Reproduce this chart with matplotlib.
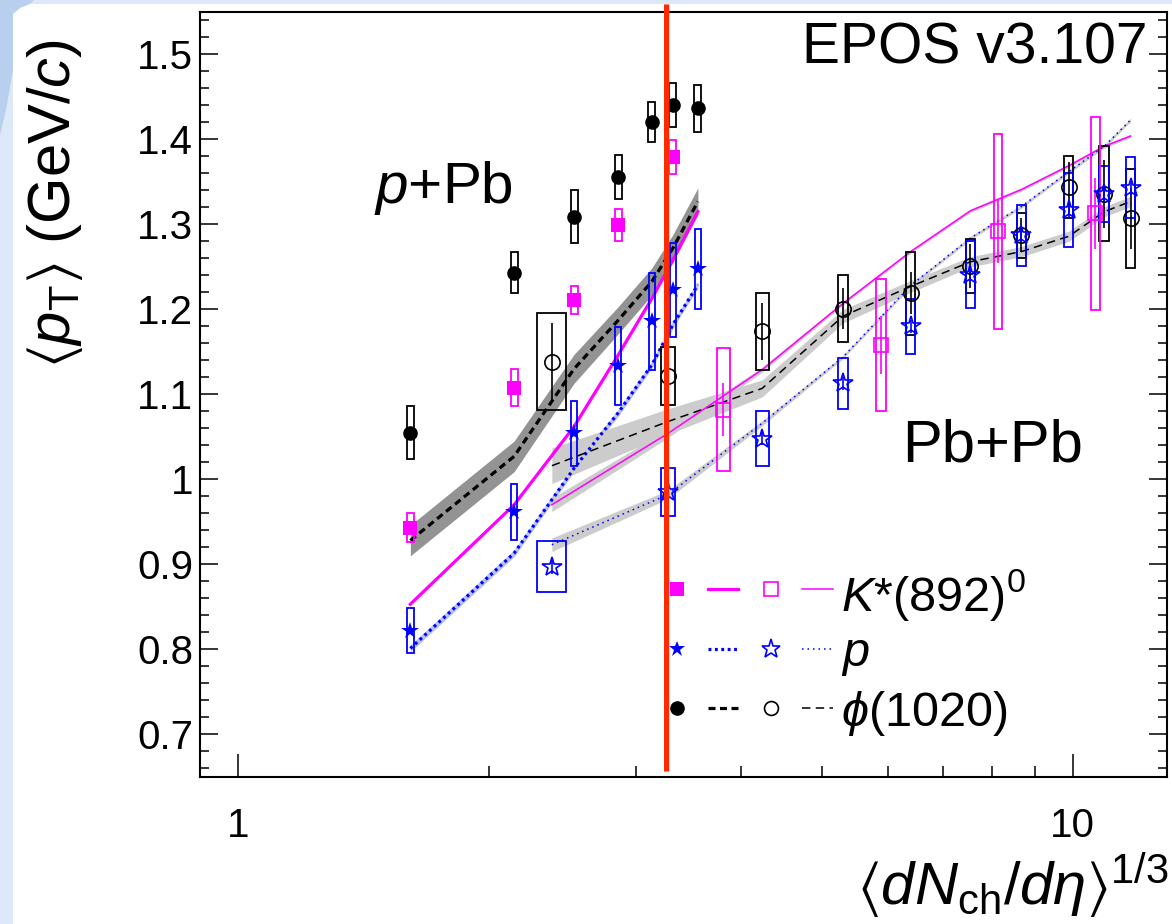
import numpy as np
import matplotlib
matplotlib.use('Agg')
import matplotlib.pyplot as plt
from matplotlib.patches import Rectangle, Polygon
from matplotlib.ticker import FixedLocator, FuncFormatter, NullFormatter

plt.rcParams['font.family'] = ['Liberation Sans', 'DejaVu Sans']
plt.rcParams['mathtext.fontset'] = 'custom'
plt.rcParams['mathtext.rm'] = 'Liberation Sans'
plt.rcParams['mathtext.it'] = 'Liberation Sans:italic'
plt.rcParams['mathtext.bf'] = 'Liberation Sans:bold'
plt.rcParams['mathtext.fallback'] = 'stixsans'

# ---------------- data ----------------
# p+Pb multiplicity classes
ppb_x = [1.608, 2.141, 2.526, 2.852, 3.132, 3.318, 3.555]
ppb_phi_y = [1.055, 1.243, 1.309, 1.356, 1.4205, 1.441, 1.4365]
ppb_phi_sys = [0.031, 0.024, 0.031, 0.026, 0.024, 0.026, 0.028]
ppb_p_y = [0.822, 0.961, 1.054, 1.133, 1.186, 1.223, 1.248]
ppb_p_sys = [0.027, 0.033, 0.038, 0.046, 0.057, 0.055, 0.047]
ppb_k_x = [1.608, 2.141, 2.526, 2.852, 3.318]
ppb_k_y = [0.943, 1.108, 1.211, 1.2995, 1.379]
ppb_k_sys = [0.017, 0.022, 0.017, 0.019, 0.020]

# EPOS p+Pb
epos_ppb_phi = [0.928, 1.027, 1.130, 1.187, 1.233, 1.272, 1.327]
epos_ppb_phi_band = [0.018, 0.018, 0.017, 0.016, 0.016, 0.016, 0.016]
epos_ppb_k = [0.853, 0.970, 1.062, 1.146, 1.213, 1.258, 1.315]
epos_ppb_p = [0.801, 0.913, 1.013, 1.078, 1.135, 1.182, 1.229]
epos_ppb_p_band = [0.004, 0.004, 0.004, 0.004, 0.004, 0.004, 0.004]

# Pb+Pb centrality classes
pbpb_x = [2.376, 3.273, 4.245, 5.305, 6.394, 7.54, 8.677, 9.89, 10.91, 11.73]
pbpb_phi_y = [1.1385, 1.122, 1.174, 1.201, 1.219, 1.251, 1.287, 1.344, 1.336, 1.307]
pbpb_phi_sys = [0.057, 0.034, 0.045, 0.039, 0.049, 0.032, 0.027, 0.037, 0.056, 0.058]
pbpb_phi_stat = [0.046, 0.020, 0.033, 0.024, 0.025, 0.026, 0.020, 0.030, 0.040, 0.036]
pbpb_p_y = [0.897, 0.985, 1.048, 1.113, 1.180, 1.241, 1.287, 1.317, 1.336, 1.343]
pbpb_p_sys = [0.030, 0.028, 0.032, 0.030, 0.032, 0.039, 0.036, 0.043, 0.033, 0.036]
pbpb_p_stat = [0.008, 0.008, 0.008, 0.008, 0.008, 0.008, 0.008, 0.008, 0.008, 0.008]
pbpb_k_x = [3.812, 5.897, 8.135, 10.64]
pbpb_k_y = [1.082, 1.158, 1.292, 1.313]
pbpb_k_sys = [0.072, 0.078, 0.115, 0.114]
pbpb_k_stat = [0.031, 0.034, 0.037, 0.042]

# EPOS Pb+Pb
epos_pbpb_phi = [1.016, 1.068, 1.107, 1.192, 1.227, 1.256, 1.268, 1.286, 1.315, 1.327]
epos_pbpb_phi_band = [0.021, 0.015, 0.010, 0.008, 0.007, 0.006, 0.006, 0.006, 0.006, 0.006]
epos_pbpb_k = [0.970, 1.054, 1.129, 1.207, 1.268, 1.316, 1.341, 1.369, 1.392, 1.404]
epos_pbpb_k_band = [0.008, 0.005, 0.003, 0.002, 0.002, 0.002, 0.002, 0.002, 0.002, 0.002]
epos_pbpb_p = [0.923, 0.982, 1.066, 1.144, 1.228, 1.284, 1.321, 1.362, 1.392, 1.423]
epos_pbpb_p_band = [0.008, 0.005, 0.003, 0.002, 0.002, 0.002, 0.002, 0.002, 0.002, 0.002]

red_line_x = 3.255

x_ticks = [1, 10]
y_ticks = [0.7, 0.8, 0.9, 1.0, 1.1, 1.2, 1.3, 1.4, 1.5]

# ---------------- style ----------------
W, H = 1172, 924
MAG, BLU, BLK = '#ff00ff', '#0000ff', 'black'
DEC = 835.6  # pixels per decade on the x axis


def fx(px):
    return px / W


def fy(py):
    return 1 - py / H


fig = plt.figure(figsize=(W / 100, H / 100), dpi=100)
fig.patch.set_facecolor('white')

# slide background strips
fig.add_artist(Rectangle((0, 0), fx(13), 1, transform=fig.transFigure,
                         color='#dde9f8', lw=0, zorder=0))
fig.add_artist(Rectangle((0, fy(4)), 1, 4 / H, transform=fig.transFigure,
                         color='#dde9f8', lw=0, zorder=0))
fig.add_artist(Polygon([(fx(0), fy(0)), (fx(34), fy(0)), (fx(30), fy(4)),
                        (fx(20), fy(8)), (fx(13), fy(14)), (fx(13), fy(70)),
                        (fx(6), fy(110)), (fx(0), fy(135))],
                       closed=True, transform=fig.transFigure,
                       color='#b9cfee', lw=0, zorder=0))

ax = fig.add_axes([fx(200), fy(776.7), 967 / W, 764.7 / H])
ax.set_xscale('log')
ax.set_xlim(0.9, 12.97)
ax.set_ylim(0.65, 1.55)

for s in ax.spines.values():
    s.set_linewidth(1.5)

ax.xaxis.set_major_locator(FixedLocator(x_ticks))
ax.xaxis.set_minor_locator(FixedLocator([2, 3, 4, 5, 6, 7, 8, 9]))
ax.xaxis.set_major_formatter(FuncFormatter(lambda v, p: '%g' % v))
ax.xaxis.set_minor_formatter(NullFormatter())
ax.yaxis.set_major_locator(FixedLocator(y_ticks))
ax.yaxis.set_minor_locator(FixedLocator(np.arange(0.66, 1.55, 0.02)))
ax.yaxis.set_major_formatter(FuncFormatter(lambda v, p: '%g' % round(v, 2)))

ax.tick_params(axis='x', which='major', direction='in', length=16.5, width=1.1,
               top=False, labelsize=29, pad=22)
ax.tick_params(axis='x', which='minor', direction='in', length=8, width=1.1, top=False)
ax.tick_params(axis='y', which='major', direction='in', length=13, width=1.1,
               right=True, labelsize=29, pad=5)
ax.tick_params(axis='y', which='minor', direction='in', length=6.5, width=1.1, right=True)


def box(x, y, dy, wpx, color, lw=1.3, z=4):
    h = wpx / 2 / DEC
    x0, x1 = x * 10 ** (-h), x * 10 ** h
    ax.add_patch(Rectangle((x0, y - dy), x1 - x0, 2 * dy, fill=False,
                           ec=color, lw=lw, zorder=z))


# ---- EPOS bands and curves ----
ax.fill_between(ppb_x, np.array(epos_ppb_phi) - epos_ppb_phi_band,
                np.array(epos_ppb_phi) + epos_ppb_phi_band, color='#939393', lw=0, zorder=2)
ax.fill_between(ppb_x, np.array(epos_ppb_p) - epos_ppb_p_band,
                np.array(epos_ppb_p) + epos_ppb_p_band, color='#b8c0f4', lw=0, zorder=2)
ax.fill_between(pbpb_x, np.array(epos_pbpb_phi) - epos_pbpb_phi_band,
                np.array(epos_pbpb_phi) + epos_pbpb_phi_band, color='#cccccc', lw=0, zorder=2)
ax.fill_between(pbpb_x, np.array(epos_pbpb_k) - epos_pbpb_k_band,
                np.array(epos_pbpb_k) + epos_pbpb_k_band, color='#cccccc', lw=0, zorder=2)
ax.fill_between(pbpb_x, np.array(epos_pbpb_p) - epos_pbpb_p_band,
                np.array(epos_pbpb_p) + epos_pbpb_p_band, color='#cccccc', lw=0, zorder=2)

THICK, THIN = 2.3, 1.1
ls_thick_dash = (0, (2.2, 1.4))
ls_thin_dash = (0, (5.5, 3.5))
ls_thick_dot = (0, (0.9, 1.1))
ls_thin_dot = (0, (1.0, 2.6))

ax.plot(ppb_x, epos_ppb_phi, color=BLK, lw=THICK, ls=ls_thick_dash, zorder=3)
ax.plot(ppb_x, epos_ppb_k, color=MAG, lw=THICK, ls='-', zorder=3)
ax.plot(ppb_x, epos_ppb_p, color=BLU, lw=THICK, ls=ls_thick_dot, zorder=3)
ax.plot(pbpb_x, epos_pbpb_phi, color=BLK, lw=THIN, ls=ls_thin_dash, zorder=3)
ax.plot(pbpb_x, epos_pbpb_k, color=MAG, lw=THIN, ls='-', zorder=3)
ax.plot(pbpb_x, epos_pbpb_p, color=BLU, lw=THIN, ls=ls_thin_dot, zorder=3)

# ---- p+Pb data (filled) ----
for x, y, s in zip(ppb_x, ppb_phi_y, ppb_phi_sys):
    box(x, y, s, 7, BLK)
for x, y, s in zip(ppb_k_x, ppb_k_y, ppb_k_sys):
    box(x, y, s, 7, MAG)
for x, y, s in zip(ppb_x, ppb_p_y, ppb_p_sys):
    box(x, y, s, 6.5, BLU)
ax.plot(ppb_x, ppb_phi_y, 'o', color=BLK, ms=10.5, mew=0, ls='none', zorder=6)
ax.plot(ppb_k_x, ppb_k_y, 's', color=MAG, ms=10.5, mew=0, ls='none', zorder=6)
ax.plot(ppb_x, ppb_p_y, '*', color=BLU, ms=13, mew=0, ls='none', zorder=6)

# ---- Pb+Pb data (open) ----
pbpb_box_w = [29, 14.5, 12.7, 10, 9.3, 9.3, 9.3, 9.3, 10, 8.5]
pbpb_k_box_w = [13.3, 10, 8.7, 9.3]
for x, y, s, w in zip(pbpb_x, pbpb_phi_y, pbpb_phi_sys, pbpb_box_w):
    box(x, y, s, w, BLK)
for x, y, s, w in zip(pbpb_x, pbpb_p_y, pbpb_p_sys, pbpb_box_w):
    box(x, y, s, w, BLU)
for x, y, s, w in zip(pbpb_k_x, pbpb_k_y, pbpb_k_sys, pbpb_k_box_w):
    box(x, y, s, w, MAG)

ax.errorbar(pbpb_x, pbpb_phi_y, yerr=pbpb_phi_stat, fmt='o', color=BLK, mfc='none',
            ms=11, mew=1.2, elinewidth=1.2, capsize=0, zorder=6)
ax.errorbar(pbpb_x, pbpb_p_y, yerr=pbpb_p_stat, fmt='*', color=BLU, mfc='none',
            ms=15, mew=1.2, elinewidth=1.2, capsize=0, zorder=6)
ax.errorbar(pbpb_k_x, pbpb_k_y, yerr=pbpb_k_stat, fmt='s', color=MAG, mfc='none',
            ms=10.5, mew=1.2, elinewidth=1.2, capsize=0, zorder=6)


# ---- legend (drawn by hand, axes fraction coordinates) ----
def afx(px):
    return (px - 200) / 967


def afy(py):
    return (776.7 - py) / 764.7


leg_rows = [
    (589, MAG, 's', '-', '-', 10.5, 9.5, r'$K$*(892)$^{0}$'),
    (649, BLU, '*', ls_thick_dot, ls_thin_dot, 12, 14, r'$p$'),
    (708, BLK, 'o', ls_thick_dash, ls_thin_dash, 10.5, 10, r'$\phi$(1020)'),
]
for py, c, m, lsa, lsb, ms1, ms2, lab in leg_rows:
    yy = afy(py)
    ax.plot([afx(677)], [yy], m, color=c, ms=ms1, mew=0, transform=ax.transAxes,
            zorder=7, clip_on=False)
    ax.plot([afx(708), afx(738)], [yy, yy], color=c, lw=THICK, ls=lsa,
            transform=ax.transAxes, zorder=7)
    ax.plot([afx(771)], [yy], m, color=c, mfc='none', ms=ms2, mew=1.2,
            transform=ax.transAxes, zorder=7)
    ax.plot([afx(802), afx(833)], [yy, yy], color=c, lw=THIN, ls=lsb,
            transform=ax.transAxes, zorder=7)
    ax.text(afx(841), yy, lab, fontsize=35, ha='left', va='center_baseline',
            transform=ax.transAxes, zorder=7)

# ---- annotations ----
fig.text(fx(1147), fy(64), 'EPOS v3.107', fontsize=41, ha='right', va='baseline')
fig.text(fx(374), fy(203), r'$p$+Pb', fontsize=42, ha='left', va='baseline')
fig.text(fx(902), fy(462), 'Pb+Pb', fontsize=43, ha='left', va='baseline')

fig.text(fx(1169), fy(905), r'$\langle dN_{\rm ch}/d\eta\rangle^{1/3}$', fontsize=43,
         ha='right', va='baseline')
fig.text(fx(55), fy(204), r'$\langle p_{\rm T}\rangle$ (GeV/$c$)', fontsize=43,
         ha='center', va='center', rotation=90)

# red marker line across the slide
tr = ax.get_xaxis_transform()
ax.plot([red_line_x * 1.004, red_line_x * 1.004], [afy(4), afy(771)], color='#999999',
        alpha=0.35, lw=3.6, transform=tr, zorder=9, clip_on=False,
        solid_capstyle='butt')
ax.plot([red_line_x, red_line_x], [afy(4), afy(771)], color='#ff2a00', lw=3.6,
        transform=tr, zorder=10, clip_on=False, solid_capstyle='butt')

fig.savefig('out.png', dpi=100, facecolor=fig.get_facecolor())
